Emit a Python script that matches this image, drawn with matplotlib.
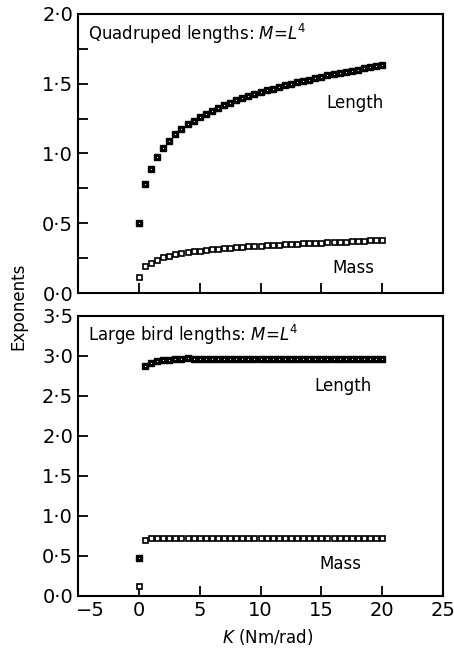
import matplotlib
matplotlib.use("Agg")
import matplotlib.pyplot as plt
from matplotlib.transforms import ScaledTranslation

plt.rcParams['font.family'] = ['DejaVu Sans']
plt.rcParams['mathtext.fontset'] = 'dejavusans'

K = [0, 0.5, 1, 1.5, 2, 2.5, 3, 3.5, 4, 4.5, 5, 5.5, 6, 6.5, 7, 7.5, 8, 8.5, 9, 9.5,
     10, 10.5, 11, 11.5, 12, 12.5, 13, 13.5, 14, 14.5, 15, 15.5, 16, 16.5, 17, 17.5,
     18, 18.5, 19, 19.5, 20]

quad_length = [0.50, 0.78, 0.89, 0.975, 1.04, 1.09, 1.14, 1.175, 1.21, 1.235, 1.26,
               1.285, 1.305, 1.325, 1.345, 1.36, 1.38, 1.395, 1.41, 1.425, 1.44,
               1.455, 1.465, 1.478, 1.49, 1.50, 1.51, 1.52, 1.53, 1.54, 1.55,
               1.56, 1.57, 1.578, 1.586, 1.594, 1.602, 1.61, 1.618, 1.626, 1.635]
quad_mass = [0.115, 0.19, 0.215, 0.24, 0.255, 0.267, 0.277, 0.285, 0.292, 0.298, 0.304,
             0.309, 0.313, 0.317, 0.321, 0.325, 0.328, 0.331, 0.334, 0.337, 0.340,
             0.342, 0.344, 0.347, 0.349, 0.351, 0.353, 0.355, 0.357, 0.359, 0.361,
             0.363, 0.365, 0.367, 0.369, 0.371, 0.373, 0.375, 0.377, 0.379, 0.381]

bird_length = [0.48, 2.875, 2.915, 2.94, 2.95, 2.955, 2.96, 2.965, 2.97] + [2.968] * 32
bird_mass = [0.12, 0.70, 0.72, 0.73, 0.73] + [0.725] * 36

xticks = [-5, 0, 5, 10, 15, 20, 25]
xticklabels = ['\u22125', '0', '5', '10', '15', '20', '25']
top_yticks = [0.0, 0.5, 1.0, 1.5, 2.0]
top_yticklabels = ['0·0', '0·5', '1·0', '1·5', '2·0']
top_yminor = [0.25, 0.75, 1.25, 1.75]
bot_yticks = [0.0, 0.5, 1.0, 1.5, 2.0, 2.5, 3.0, 3.5]
bot_yticklabels = ['0·0', '0·5', '1·0', '1·5', '2·0', '2·5', '3·0', '3·5']

fig = plt.figure(figsize=(4.54, 6.53), dpi=100)
ax1 = fig.add_axes([0.1718, 0.5513, 0.804, 0.4273])
ax2 = fig.add_axes([0.1718, 0.0873, 0.804, 0.4288])


def draw(ax, L, M):
    ax.plot(K, L, linestyle='none', marker='s', markersize=4.2,
            markerfacecolor='black', markeredgecolor='black', markeredgewidth=1.0, zorder=3)
    ax.plot(K, L, linestyle='none', marker='s', markersize=0.6,
            markerfacecolor='white', markeredgecolor='white', markeredgewidth=0, zorder=4)
    ax.plot(K, M, linestyle='none', marker='s', markersize=3.6,
            markerfacecolor='white', markeredgecolor='black', markeredgewidth=1.2, zorder=3)
    ax.set_xlim(-5, 25)
    for s in ax.spines.values():
        s.set_linewidth(1.5)
    ax.tick_params(axis='both', direction='in', length=7.5, width=1.3,
                   labelsize=14, top=False, right=False)
    ax.tick_params(axis='y', which='minor', direction='in', length=7.5, width=1.3)


draw(ax1, quad_length, quad_mass)
draw(ax2, bird_length, bird_mass)

ax1.set_ylim(0, 2.0)
ax1.set_yticks(top_yticks)
ax1.set_yticklabels(top_yticklabels)
ax1.set_yticks(top_yminor, minor=True)
ax1.set_xticks(xticks)
ax1.set_xticklabels([])

ax2.set_ylim(0, 3.5)
ax2.set_yticks(bot_yticks)
ax2.set_yticklabels(bot_yticklabels)
ax2.set_xticks(xticks)
ax2.set_xticklabels(xticklabels)
lab0 = ax2.get_xticklabels()[0]
lab0.set_transform(lab0.get_transform() + ScaledTranslation(9 / 72, 0, fig.dpi_scale_trans))

ax1.text(0.027, 0.93, r'Quadruped lengths: $M$=$L^4$', transform=ax1.transAxes,
         fontsize=12, va='center', ha='left')
ax1.text(17.8, 1.364, 'Length', fontsize=12, ha='center', va='center')
ax1.text(17.6, 0.18, 'Mass', fontsize=12, ha='center', va='center')

ax2.text(0.027, 0.932, r'Large bird lengths: $M$=$L^4$', transform=ax2.transAxes,
         fontsize=12, va='center', ha='left')
ax2.text(16.75, 2.63, 'Length', fontsize=12, ha='center', va='center')
ax2.text(16.6, 0.4, 'Mass', fontsize=12, ha='center', va='center')

ax2.set_xlabel(r'$K$ (Nm/rad)', fontsize=12)
ax2.xaxis.set_label_coords(0.52, -0.11)
fig.text(0.04, 0.531, 'Exponents', rotation=90, fontsize=12, ha='center', va='center')

fig.savefig('out.png', dpi=100)
